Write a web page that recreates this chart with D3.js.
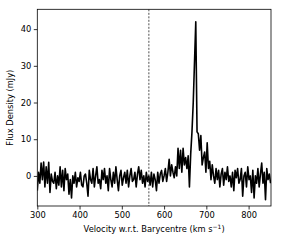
<!DOCTYPE html>
<html><head><meta charset="utf-8">
<script src="https://cdn.jsdelivr.net/npm/d3@7"></script>
<style>
html,body{margin:0;padding:0;background:#fff;}
svg text{font-family:"DejaVu Sans",sans-serif;fill:#000;}
</style></head>
<body><svg id="c" width="281" height="243"></svg>
<script>
const velocity = [300,303,306,309,312,315,318,321,324,327,
330,333,336,339,342,345,348,351,354,357,
360,363,366,369,372,375,378,381,384,387,
390,393,396,399,402,405,408,411,414,417,
420,423,426,429,432,435,438,441,444,447,
450,453,456,459,462,465,468,471,474,477,
480,483,486,489,492,495,498,501,504,507,
510,513,516,519,522,525,528,531,534,537,
540,543,546,549,552,555,558,561,564,567,
570,573,576,579,582,585,588,591,594,597,
600,603,606,609,612,615,618,621,624,627,
630,633,636,639,642,645,648,651,654,657,
660,663,666,669,672,675,678,681,684,687,
690,693,696,699,702,705,708,711,714,717,
720,723,726,729,732,735,738,741,744,747,
750,753,756,759,762,765,768,771,774,777,
780,783,786,789,792,795,798,801,804,807,
810,813,816,819,822,825,828,831,834,837,
840,843,846,849,852];
const flux = [-4,1,-2,3.5,-1,3.8,-3,2.5,-2,3.7,
-4.5,0.5,-1.5,-2,1,-3.5,0,-2.5,2.5,-3,
1.5,-4,2,-1,0.5,-5,-1,-6,0,-2,
1,-3,-0.5,-1.5,1,-2.5,-3,0,0.5,-2,
-5.5,1.5,-1,-2,2,-3,0,2.5,-2,-1,
-3.5,1.5,-1,2,-2,0,-4,2,-1,-3,
1,-2,2.5,-1,-4,0,1.5,-2.5,-0.5,1,
-2,1.5,-3,0,2,-1.5,-1,1,-3,0.5,
2.5,-1,1.5,-2,0,-3,1,-1.5,0,-2.5,
1,-3,0.5,-1,-4,1,-2,0.5,1.5,-1.5,
0,2,-1.5,1,4.5,0,3,1,-0.5,2.5,
0,7.5,2,7,1,7.5,3,5,2,5.5,
-3,6,12,20,31,42,12,11.5,7,11,
3,5,6.5,1,9,2,4,-1,3,0,
-2,2,-1,1.5,-3,0.5,2,-2.5,1,-1,
2.5,-1.5,0,-3,1,-4,1.5,-0.5,2,-2,
-1,2,-5.5,0,1,-3,2.5,-1,0,-4.5,
1.5,-6,0,-2,2,-3,0.5,3.5,-2,1,
-6.5,2,-1,0.5,-2];
const xTicks = [300,400,500,600,700,800];
const yTicks = [0,10,20,30,40];
const systemicVelocity = [564];

const svg = d3.select("#c");
const L=37.3, R=271, T=9.3, B=206;
const x = d3.scaleLinear().domain([300,853]).range([L,R]);
const y = d3.scaleLinear().domain([-8.2,45.4]).range([B,T]);

svg.append("clipPath").attr("id","pc").append("rect")
  .attr("x",L).attr("y",T).attr("width",R-L).attr("height",B-T);

const g = svg.append("g").attr("clip-path","url(#pc)");
g.append("path")
  .datum(velocity.map((v,i)=>[v,flux[i]]))
  .attr("fill","none").attr("stroke","#000").attr("stroke-width",1.6)
  .attr("stroke-linejoin","round")
  .attr("d", d3.line().x(d=>x(d[0])).y(d=>y(d[1])));

g.selectAll("line.sys").data(systemicVelocity).enter().append("line")
  .attr("x1",d=>x(d)).attr("x2",d=>x(d)).attr("y1",T).attr("y2",B)
  .attr("stroke","#222").attr("stroke-width",0.8).attr("stroke-dasharray","2,1.5");

const xa = svg.append("g").attr("transform",`translate(0,${B})`)
  .call(d3.axisBottom(x).tickValues(xTicks).tickSize(3.5).tickPadding(2.5).tickFormat(d3.format("d")));
const ya = svg.append("g").attr("transform",`translate(${L},0)`)
  .call(d3.axisLeft(y).tickValues(yTicks).tickSize(3.5).tickPadding(2.5).tickFormat(d3.format("d")));
[xa,ya].forEach(a=>{
  a.select(".domain").remove();
  a.selectAll("line").attr("stroke","#000").attr("stroke-width",0.8);
  a.selectAll("text").attr("font-size",8.3).attr("fill","#000").attr("font-family","DejaVu Sans");
});

svg.append("rect").attr("x",L).attr("y",T).attr("width",R-L).attr("height",B-T)
  .attr("fill","none").attr("stroke","#000").attr("stroke-width",0.8);

const xl = svg.append("text").attr("x",(L+R)/2).attr("y",232).attr("text-anchor","middle").attr("font-size",8.3);
xl.append("tspan").text("Velocity w.r.t. Barycentre (km s");
xl.append("tspan").attr("dy",-3).attr("font-size",6).text("\u22121");
xl.append("tspan").attr("dy",3).text(")");

svg.append("text").attr("transform",`translate(13,${(T+B)/2}) rotate(-90)`)
  .attr("text-anchor","middle").attr("font-size",8.3).text("Flux Density (mJy)");
</script></body></html>
